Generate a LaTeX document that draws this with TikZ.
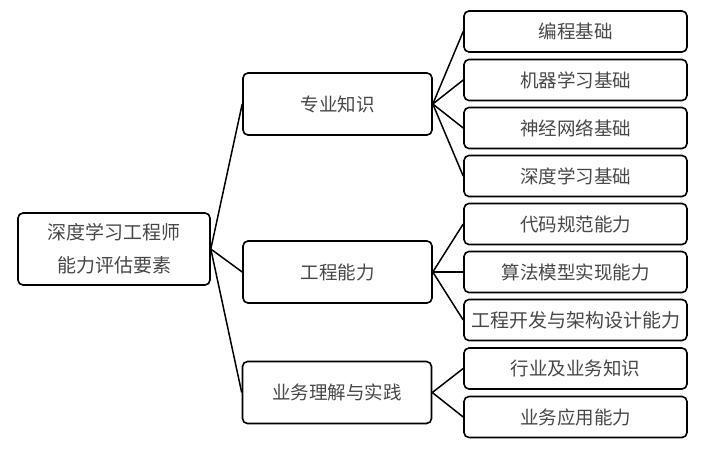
\documentclass[tikz,border=0pt]{standalone}
\usepackage{fontspec}
\setmainfont{Noto Sans CJK SC}
\begin{document}
\begin{tikzpicture}[x=1pt,y=-1pt,
  box/.style={draw=black,line width=1.6pt,rounded corners=5pt,inner sep=0pt,
    text=black!72,font=\fontsize{18.5}{24}\selectfont,align=center},
  leaf/.style={box,minimum width=223pt,minimum height=41pt},
  mid/.style={box,minimum width=189pt,minimum height=62pt},
  link/.style={line width=1.5pt}]
\useasboundingbox (0,0) rectangle (704,451);
\node[box,minimum width=192pt,minimum height=72pt,font=\fontsize{19}{33}\selectfont] (root) at (114,249) {深度学习工程师\\能力评估要素};
\node[mid] (a) at (337.5,104) {专业知识};
\node[mid] (b) at (337.5,272) {工程能力};
\node[mid] (c) at (337,392.5) {业务理解与实践};
\node[leaf] (a1) at (575.5,31.5) {编程基础};
\node[leaf] (a2) at (575.5,80) {机器学习基础};
\node[leaf] (a3) at (575.5,128) {神经网络基础};
\node[leaf] (a4) at (575.5,176) {深度学习基础};
\node[leaf] (b1) at (575.5,224) {代码规范能力};
\node[leaf] (b2) at (575.5,272) {算法模型实现能力};
\node[leaf] (b3) at (575.5,320) {\fontsize{19}{24}\selectfont 工程开发与架构设计能力};
\node[leaf] (c1) at (575.5,368.5) {行业及业务知识};
\node[leaf] (c2) at (575.5,417) {业务应用能力};
\foreach \p in {a,b,c} \draw[link] (root.east) -- (\p.west);
\foreach \q in {a1,a2,a3,a4} \draw[link] (a.east) -- (\q.west);
\foreach \q in {b1,b2,b3} \draw[link] (b.east) -- (\q.west);
\foreach \q in {c1,c2} \draw[link] (c.east) -- (\q.west);
\end{tikzpicture}
\end{document}
